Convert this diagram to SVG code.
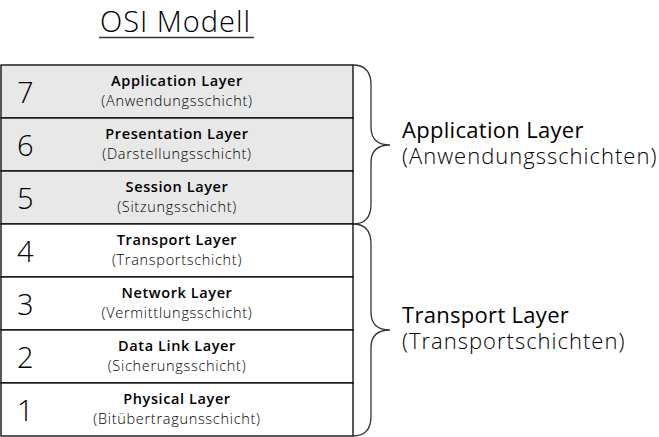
<svg xmlns="http://www.w3.org/2000/svg" width="659" height="437" viewBox="0 0 659 437">
<style>
.row{stroke:#000;stroke-width:1.3}
.gray{fill:#e8e8e8}
.white{fill:#fff}
.num{font-family:"Open Sans","Noto Sans",sans-serif;font-weight:300;font-size:29px;fill:#000}
.t{font-family:"Open Sans","Noto Sans",sans-serif;font-weight:600;font-size:14.5px;letter-spacing:0.6px;fill:#000;text-anchor:middle}
.s{font-family:"Open Sans","Noto Sans",sans-serif;font-weight:300;font-size:14.5px;letter-spacing:0.7px;fill:#000;text-anchor:middle}
.bt{font-family:"Open Sans","Noto Sans",sans-serif;font-weight:400;font-size:22px;letter-spacing:0.3px;fill:#000}
.bs{font-family:"Open Sans","Noto Sans",sans-serif;font-weight:300;font-size:22px;letter-spacing:1px;fill:#000}
.brace{fill:none;stroke:#333;stroke-width:1.3}
</style>
<rect width="659" height="437" fill="#fff"/>
<g id="title">
<text x="100" y="32" font-family="Open Sans, Noto Sans, sans-serif" font-weight="300" font-size="29" letter-spacing="1">OSI Modell</text>
<line x1="99" y1="37.5" x2="254" y2="37.5" stroke="#333" stroke-width="1.5"/>
</g>
<g id="layer7">
<rect class="row gray" x="1" y="65" width="352" height="53"/>
<text class="num" x="17" y="103">7</text>
<text class="t" x="177" y="86">Application Layer</text>
<text class="s" x="177" y="106">(Anwendungsschicht)</text>
</g>
<g id="layer6">
<rect class="row gray" x="1" y="118" width="352" height="53"/>
<text class="num" x="17" y="156">6</text>
<text class="t" x="177" y="139">Presentation Layer</text>
<text class="s" x="177" y="159">(Darstellungsschicht)</text>
</g>
<g id="layer5">
<rect class="row gray" x="1" y="171" width="352" height="53"/>
<text class="num" x="17" y="209">5</text>
<text class="t" x="177" y="192">Session Layer</text>
<text class="s" x="177" y="212">(Sitzungsschicht)</text>
</g>
<g id="layer4">
<rect class="row white" x="1" y="224" width="352" height="53"/>
<text class="num" x="17" y="262">4</text>
<text class="t" x="177" y="245">Transport Layer</text>
<text class="s" x="177" y="265">(Transportschicht)</text>
</g>
<g id="layer3">
<rect class="row white" x="1" y="277" width="352" height="53"/>
<text class="num" x="17" y="315">3</text>
<text class="t" x="177" y="298">Network Layer</text>
<text class="s" x="177" y="318">(Vermittlungsschicht)</text>
</g>
<g id="layer2">
<rect class="row white" x="1" y="330" width="352" height="53"/>
<text class="num" x="17" y="368">2</text>
<text class="t" x="177" y="351">Data Link Layer</text>
<text class="s" x="177" y="371">(Sicherungsschicht)</text>
</g>
<g id="layer1">
<rect class="row white" x="1" y="383" width="352" height="53"/>
<text class="num" x="17" y="421">1</text>
<text class="t" x="177" y="404">Physical Layer</text>
<text class="s" x="177" y="424">(Bitübertragunsschicht)</text>
</g>
<g id="connectors">
<path class="brace" d="M353,65 Q371,65 371,85 L371,127 C371,140 378,145 390,145 C378,145 371,150 371,163 L371,204 Q371,224 353,224"/>
<path class="brace" d="M353,224 Q371,224 371,244 L371,312 C371,325 378,330 390,330 C378,330 371,335 371,348 L371,416 Q371,436 353,436"/>
</g>
<g id="app-group">
<text class="bt" x="402" y="138">Application Layer</text>
<text class="bs" x="402" y="164">(Anwendungsschichten)</text>
</g>
<g id="transport-group">
<text class="bt" x="402" y="323">Transport Layer</text>
<text class="bs" x="402" y="349">(Transportschichten)</text>
</g>
</svg>
